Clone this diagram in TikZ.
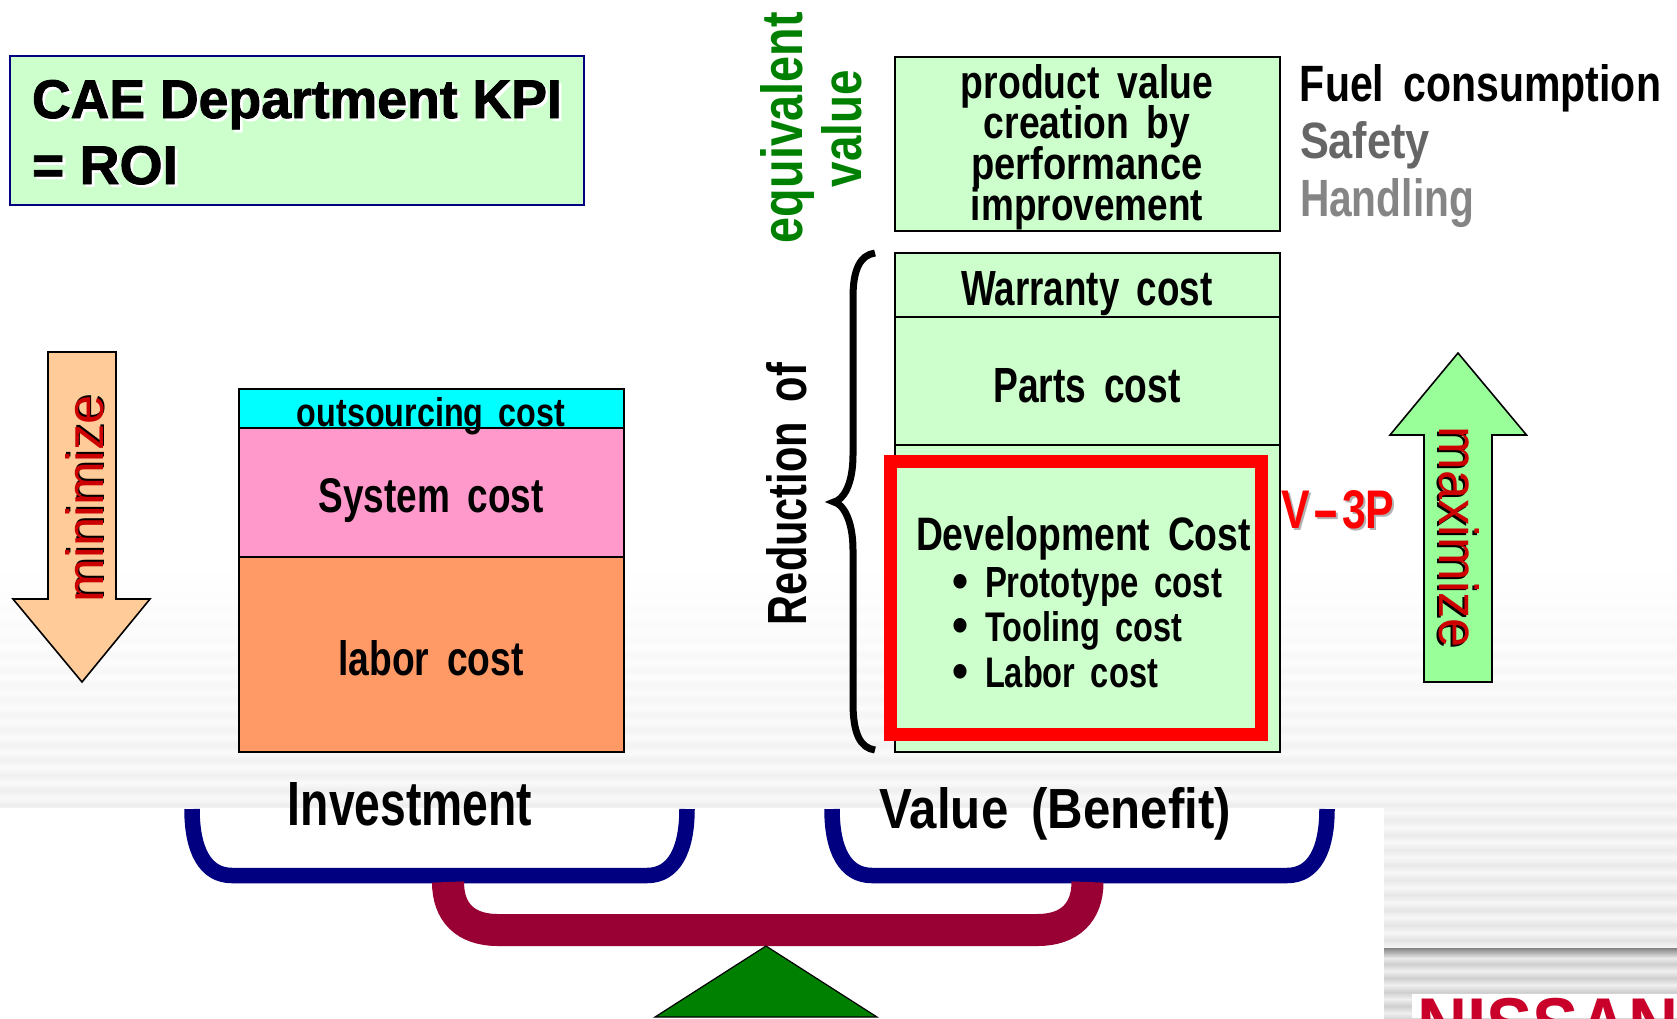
\documentclass[tikz,border=0pt]{standalone}
\usepackage{graphicx}
\usepackage{xcolor}
\usepackage{fontspec}
\setmainfont[WordSpace=1.7]{Liberation Sans}
\newfontfamily\plainsans{Liberation Sans}
\newfontfamily\heavy[UprightFont=*,BoldFont=* Bold,BoldFeatures={FakeBold=1.6}]{Liberation Sans}
\newlength\pxu \setlength\pxu{0.75pt}
\definecolor{lgreen}{HTML}{CCFFCC}
\definecolor{acyan}{HTML}{00FFFF}
\definecolor{apink}{HTML}{FF99CC}
\definecolor{aorange}{HTML}{FF9966}
\definecolor{lorange}{HTML}{FFCC99}
\definecolor{agreen}{HTML}{99FF99}
\definecolor{anavy}{HTML}{000080}
\definecolor{amaroon}{HTML}{990033}
\definecolor{tgreen}{HTML}{008000}
\definecolor{dred}{HTML}{CC0000}
\definecolor{logored}{HTML}{C8002A}
% text fitted to measured width and height above the baseline
\newcommand\FitB[3]{\resizebox{#1\pxu}{#2\pxu}{\bfseries #3}}
% fitted text with a drop shadow
\newcommand\FitS[6]{\resizebox{#1\pxu}{#2\pxu}{#3\rlap{\smash{\raisebox{-#6}{\hspace*{#6}\textcolor{#5}{#4}}}}#4}}
\newcommand\Stack[2]{\vbox{\baselineskip=#1\pxu\lineskiplimit=-1000pt #2}}
\newcommand\CL[2]{\hbox to #1\pxu{\hss #2\hss}}
\newcommand\LL[2]{\hbox to #1\pxu{#2\hss}}
\tikzset{
  box/.style={draw=black,line width=2\pxu,inner sep=0pt,outer sep=0pt},
  label/.style={inner sep=0pt,outer sep=0pt,anchor=base},
  arrowbody/.style={draw=black,line width=1.6\pxu,miter limit=20},
  navyline/.style={draw=anavy,line width=15.5\pxu},
  maroonline/.style={draw=amaroon,line width=32\pxu},
}
\begin{document}
\begin{tikzpicture}[x=0.75pt,y=-0.75pt]
\useasboundingbox (0,0) rectangle (1677,1018);
% background stripes
\foreach \i in {0,...,25}{
  \pgfmathsetmacro\yc{940-15*\i}
  \pgfmathsetmacro\dk{max(0,(\yc-560)/35)}
  \pgfmathsetmacro\lt{\dk/3}
  \shade[top color=black!\lt,bottom color=black!\lt,middle color=black!\dk]
    (0,\yc-7.5) rectangle (1677,\yc+7.5);
}
\fill[white] (0,808) rectangle (1384,1018);
\fill[black!7] (1384,949) rectangle (1677,1018);
\foreach \yc in {964,978,992,1006,1020}{
  \shade[top color=black!6,bottom color=black!6,middle color=black!19]
    (1384,\yc-7) rectangle (1677,\yc+7);
}
\shade[top color=black!48,bottom color=black!8] (1384,948) rectangle (1677,958);
% logo
\fill[white] (1412,994) rectangle (1677,1018);
\begin{scope}
  \clip (1412,994) rectangle (1677,1018);
  \node[label,anchor=north west,text=logored] (logo) at (1417,998)
    {\resizebox*{262\pxu}{54\pxu}{\plainsans\bfseries NISSAN}};
\end{scope}
% KPI box
\node[box,draw=anavy,fill=lgreen,minimum width=574\pxu,minimum height=149\pxu] (kpi) at (297,130.5) {};
\node[label] (kpitext) at (297,184)
  {\Stack{66}{\LL{530}{\FitS{530}{38}{\heavy\bfseries}{CAE Department KPI}{white}{0.5pt}}
   \LL{530}{\FitS{146}{38}{\heavy\bfseries}{= ROI}{white}{0.5pt}}}};
% left stack
\node[box,fill=aorange,minimum width=385\pxu,minimum height=195\pxu] (labor) at (431.5,654.5) {};
\node[box,fill=apink,minimum width=385\pxu,minimum height=129\pxu] (system) at (431.5,492.5) {};
\node[box,fill=acyan,minimum width=385\pxu,minimum height=39\pxu] (outsourcing) at (431.5,408.5) {};
\node[label] (outsourcinglabel) at (431,426) {\FitB{268}{29}{outsourcing cost}};
\node[label] (systemlabel) at (431,512) {\FitB{225}{34}{System cost}};
\node[label] (laborlabel) at (431,675) {\FitB{185}{35}{labor cost}};
% right stack
\node[box,fill=lgreen,minimum width=385\pxu,minimum height=174\pxu] (product) at (1087.5,144) {};
\node[label] (productlabel) at (1087,220.7)
  {\Stack{40.9}{\CL{252}{\FitB{252}{34}{product value}}
   \CL{252}{\FitB{206}{33}{creation by}}
   \CL{252}{\FitB{231}{33}{performance}}
   \CL{252}{\FitB{232}{33}{improvement}}}};
\node[box,fill=lgreen,minimum width=385\pxu,minimum height=307\pxu] (dev) at (1087.5,598.5) {};
\node[box,fill=lgreen,minimum width=385\pxu,minimum height=128\pxu] (parts) at (1087.5,381) {};
\node[box,fill=lgreen,minimum width=385\pxu,minimum height=64\pxu] (warranty) at (1087.5,285) {};
\node[label] (warrantylabel) at (1087,305) {\FitB{251}{34}{Warranty cost}};
\node[label] (partslabel) at (1087,402) {\FitB{187}{34}{Parts cost}};
\node[inner sep=0pt,outer sep=0pt,draw=red,line width=13\pxu,minimum width=370.5\pxu,minimum height=273\pxu] (redframe) at (1076,598) {};
\node[label] (devlabel) at (1083.5,550.7) {\FitB{335}{34}{Development Cost}};
\node[label,anchor=base west] (proto) at (952,597) {\raisebox{-1\pxu}{\FitB{16}{24}{•}}\hspace{17\pxu}\FitB{237}{30}{Prototype cost}};
\node[label,anchor=base west] (tool) at (952,641) {\raisebox{-1\pxu}{\FitB{16}{24}{•}}\hspace{17\pxu}\FitB{197}{30}{Tooling cost}};
\node[label,anchor=base west] (labr) at (952,687) {\raisebox{-1\pxu}{\FitB{16}{24}{•}}\hspace{17\pxu}\FitB{173}{31}{Labor cost}};
% side labels
\node[label] (fuel) at (1480.5,101.7) {\FitB{361}{37}{Fuel consumption}};
\node[label,text=black!60] (safety) at (1365,158) {\FitB{130}{37}{Safety}};
\node[label,text=black!48] (handling) at (1387,216.5) {\FitB{174}{38}{Handling}};
\node[label,rotate=90,text=tgreen] (equiv) at (802,127.5) {\FitB{231}{42}{equivalent}};
\node[label,rotate=90,text=tgreen] (valuetxt) at (861,128.5) {\FitB{117}{40}{value}};
\node[label,rotate=90] (reduction) at (806,494) {\FitB{262}{40}{Reduction of}};
\node[label] (vthree) at (1338,528) {\FitS{113}{38}{\bfseries\color{red}}{V\kern.6pt\scalebox{1.9}[1]{-}\kern.6pt 3P}{black!30}{0.45pt}};
% brace
\coordinate (bracetop) at (875,253);
\coordinate (bracebot) at (875,750);
\coordinate (bracetip) at (834,502);
\draw[black,line width=7\pxu] (bracetop) .. controls (860,255) and (853,270) .. (853,297)
  -- (853,455) .. controls (853,485) and (843,500) .. (bracetip)
  .. controls (843,504) and (853,520) .. (853,550)
  -- (853,703) .. controls (853,733) and (860,748) .. (bracebot);
% arrows
\path[arrowbody,fill=lorange] (48,352) -- (116,352) -- (116,599) -- (150,599) -- (82,682) -- (13,599) -- (48,599) -- cycle;
\node[label,rotate=90] (minimize) at (103,498.5) {\FitS{207}{38}{\plainsans\color{dred}}{minimize}{black}{0.35pt}};
\path[arrowbody,fill=agreen] (1424,682) -- (1492,682) -- (1492,435) -- (1526.5,435) -- (1458,353) -- (1390,435) -- (1424,435) -- cycle;
\node[label,rotate=-90] (maximize) at (1439,537.5) {\FitS{221}{40}{\plainsans\color{dred}}{maximize}{black}{0.35pt}};
% captions
\node[label] (investment) at (410,825) {\FitB{244}{43}{Investment}};
\node[label] (benefit) at (1055.4,828) {\FitB{351}{41}{Value\ (Benefit)}};
% balance
\coordinate (il) at (192,809);
\coordinate (ir) at (687,809);
\coordinate (vl) at (832,809);
\coordinate (vr) at (1327,809);
\coordinate (ml) at (448,882);
\coordinate (mr) at (1087.5,882);
\draw[navyline] (il) .. controls (192,850) and (205,875.5) .. (232,875.5) -- (647,875.5) .. controls (674,875.5) and (687,850) .. (ir);
\draw[navyline] (vl) .. controls (832,850) and (845,875.5) .. (872,875.5) -- (1287,875.5) .. controls (1314,875.5) and (1327,850) .. (vr);
\draw[maroonline] (ml) .. controls (448,912) and (465,930) .. (498,930) -- (1037.5,930) .. controls (1070,930) and (1087.5,912) .. (mr);
\draw[black,line width=1.2\pxu,fill=tgreen] (766,946) -- (877,1017) -- (655,1017) -- cycle;
\end{tikzpicture}
\end{document}
